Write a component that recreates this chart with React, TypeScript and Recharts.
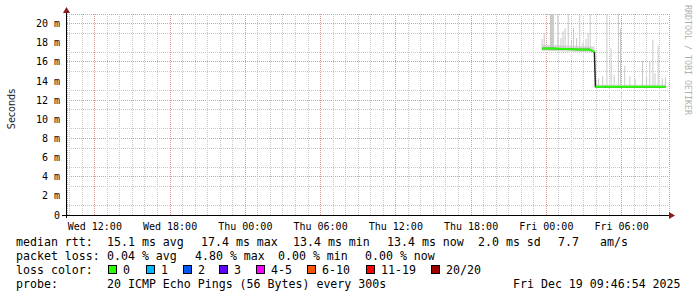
import React from "react";
import { ComposedChart, Area, Bar, Line, XAxis, YAxis, CartesianGrid, ReferenceLine } from "recharts";

// time is minutes since Wed 00:00, 5 minute steps; window ends Fri 09:46:54
const xDomain = [586.9, 3466.9];
const xTicks = [720, 1080, 1440, 1800, 2160, 2520, 2880, 3240];
const xTickLabels = ["Wed 12:00", "Wed 18:00", "Thu 00:00", "Thu 06:00", "Thu 12:00", "Thu 18:00", "Fri 00:00", "Fri 06:00"];
const yTicks = [0, 2, 4, 6, 8, 10, 12, 14, 16, 18, 20];
const yTickLabels = ["0", "2 m", "4 m", "6 m", "8 m", "10 m", "12 m", "14 m", "16 m", "18 m", "20 m"];

// median rtt (ms), before and after the drop
const medianTimesA = [2860, 2910, 2970, 3030, 3085, 3100, 3110];
const medianValuesA = [17.4, 17.4, 17.35, 17.3, 17.3, 17.15, 17.0];
const medianTimesB = [3115, 3240, 3450];
const medianValuesB = [13.4, 13.4, 13.4];
// one lost ping
const lossTimes = [3160, 3165];
const lossValues = [13.4, 13.4];

// smoke band around the median
const bandTimes = [2860, 3110, 3115, 3450];
const bandLow = [17.15, 17.0, 13.3, 13.3];
const bandHigh = [17.8, 17.6, 13.6, 13.6];

// smoke spikes (max rtt of the 20 pings)
const spikeTimes = [2860, 2870, 2900, 2905, 2910, 2915, 2935, 2950, 2960, 2970, 2985, 3000, 3010, 3025, 3040, 3055, 3070, 3080, 3090,
  3130, 3150, 3170, 3190, 3205, 3225, 3235, 3255, 3280, 3305, 3340, 3360, 3375, 3390, 3400, 3415, 3435, 3450];
const spikeLow = [17.2, 17.2, 17.2, 17.2, 17.2, 17.2, 17.2, 17.2, 17.2, 17.2, 17.2, 17.2, 17.2, 17.2, 17.2, 17.2, 17.2, 17.2, 17.1,
  13.3, 13.3, 13.3, 13.3, 13.3, 13.3, 13.3, 13.3, 13.3, 13.3, 13.3, 13.3, 13.3, 13.3, 13.3, 13.3, 13.3, 13.3];
const spikeHigh = [18.4, 19.0, 21, 21, 21, 21, 21, 18.5, 19.2, 19.5, 21, 18.2, 19.6, 18.5, 21, 18.0, 18.4, 19.0, 21,
  14.3, 14.5, 21, 17.4, 14.6, 21, 19.5, 15.6, 14.5, 14.2, 16.1, 14.4, 16.0, 18.3, 14.8, 17.7, 14.3, 14.4];

const lossColors = ["#26ff00", "#00b8ff", "#0059ff", "#5e00ff", "#ff00ff", "#ff5500", "#ff0000", "#a10000"];
const lossLabels = ["0", "1", "2", "3", "4-5", "6-10", "11-19", "20/20"];

const rttLine = ["median rtt:", "15.1 ms avg", "17.4 ms max", "13.4 ms min", "13.4 ms now", "2.0 ms sd", "7.7", "am/s"];
const lossLine = ["packet loss:", "0.04 % avg", "4.80 % max", "0.00 % min", "0.00 % now"];
const probeLine = ["probe:", "20 ICMP Echo Pings (56 Bytes) every 300s", "Fri Dec 19 09:46:54 2025"];

function buildRows() {
  const rows = new Map<number, any>();
  const put = (t: number, key: string, v: any) => {
    const r = rows.get(t) ?? { t };
    r[key] = v;
    rows.set(t, r);
  };
  medianTimesA.forEach((t, i) => { put(t, "medA", medianValuesA[i]); put(t, "med", medianValuesA[i]); });
  medianTimesB.forEach((t, i) => { put(t, "medB", medianValuesB[i]); put(t, "med", medianValuesB[i]); });
  lossTimes.forEach((t, i) => put(t, "loss", lossValues[i]));
  bandTimes.forEach((t, i) => put(t, "band", [bandLow[i], bandHigh[i]]));
  spikeTimes.forEach((t, i) => put(t, "spike", [spikeLow[i], spikeHigh[i]]));
  return Array.from(rows.values()).sort((a, b) => a.t - b.t);
}

const data = buildRows();

const minorX: number[] = [];
for (let m = 600; m <= 3420; m += 60) if (m % 360 !== 0) minorX.push(m);
const minorY = [1, 3, 5, 7, 9, 11, 13, 15, 17, 19];

const mono = "'DejaVu Sans Mono', monospace";
const minorStyle = { stroke: "#c8c8c8", strokeDasharray: "1 1", shapeRendering: "crispEdges" as const };

export default function App() {
  return (
    <div style={{ position: "relative", width: 697, height: 297, background: "#fff" }}>
      <style>{"body{margin:0}"}</style>
      <ComposedChart width={697} height={297} data={data} margin={{ top: 14, right: 28, bottom: 62, left: 27 }}>
        <CartesianGrid stroke="#e39a9a" strokeDasharray="1 1" shapeRendering="crispEdges" />
        {minorX.map((m) => (
          <ReferenceLine key={"vx" + m} x={m} {...minorStyle} />
        ))}
        {minorY.map((v) => (
          <ReferenceLine key={"hy" + v} y={v} {...minorStyle} />
        ))}
        <XAxis
          dataKey="t"
          type="number"
          domain={xDomain}
          allowDataOverflow
          ticks={xTicks}
          tickFormatter={(v) => xTickLabels[xTicks.indexOf(v)]}
          axisLine={false}
          tickLine={false}
          tickSize={6}
          height={20}
          tick={{ fontFamily: mono, fontSize: 10, fill: "#000" }}
        />
        <YAxis
          type="number"
          domain={[0, 21]}
          allowDataOverflow
          ticks={yTicks}
          tickFormatter={(v) => yTickLabels[yTicks.indexOf(v)]}
          axisLine={false}
          tickLine={false}
          tickSize={5}
          width={40}
          tick={{ fontFamily: mono, fontSize: 10, fill: "#000" }}
        />
        <Area dataKey="band" type="linear" stroke="none" fill="#d8d8d8" fillOpacity={1} connectNulls isAnimationActive={false} />
        <Bar dataKey="spike" barSize={1} fill="#c8c8c8" isAnimationActive={false} />
        <Line dataKey="med" type="linear" stroke="#222" strokeWidth={1.5} dot={false} connectNulls isAnimationActive={false} />
        <Line dataKey="medA" type="linear" stroke="#26ff00" strokeWidth={2} dot={false} connectNulls isAnimationActive={false} />
        <Line dataKey="medB" type="linear" stroke="#26ff00" strokeWidth={2} dot={false} connectNulls isAnimationActive={false} />
        <Line dataKey="loss" type="linear" stroke="#00b8ff" strokeWidth={2} dot={false} connectNulls isAnimationActive={false} />
      </ComposedChart>

      <svg width={697} height={297} style={{ position: "absolute", left: 0, top: 0, pointerEvents: "none" }}>
        <line x1={62} y1={215.5} x2={670} y2={215.5} stroke="#000" strokeWidth={1} />
        <line x1={66.5} y1={218} x2={66.5} y2={12} stroke="#000" strokeWidth={1} />
        <polygon points="669,212 675,215.5 669,219" fill="#8b1a1a" />
        <polygon points="63,13 66.5,7 70,13" fill="#8b1a1a" />

        <text x={15} y={109} transform="rotate(-90 15 109)" textAnchor="middle" fontFamily="'DejaVu Sans', sans-serif" fontSize={9.6} fill="#222">
          Seconds
        </text>
        <text x={685} y={5} transform="rotate(90 685 5)" fontFamily={mono} fontSize={8.3} fill="#b0b0b0">
          RRDTOOL / TOBI OETIKER
        </text>

        <g fontFamily={mono} fontSize={11.6} fill="#000" style={{ whiteSpace: "pre" }}>
          {rttLine.map((s, i) => (
            <text key={"r" + i} x={[16, 107, 201, 293, 387, 478, 558, 600][i]} y={245.5}>{s}</text>
          ))}
          {lossLine.map((s, i) => (
            <text key={"l" + i} x={[16, 107, 195, 278, 365][i]} y={259.5}>{s}</text>
          ))}
          <text x={16} y={273.5}>loss color:</text>
          {lossLabels.map((s, i) => {
            const bx = [108, 146, 183, 219, 256, 307, 366, 431][i];
            return (
              <g key={"c" + i}>
                <rect x={bx + 0.5} y={265.5} width={8} height={8} fill={lossColors[i]} stroke="#000" strokeWidth={1} />
                <text x={bx + 15} y={273.5}>{s}</text>
              </g>
            );
          })}
          {probeLine.map((s, i) => (
            <text key={"p" + i} x={[16, 107, 513][i]} y={287.5}>{s}</text>
          ))}
        </g>
      </svg>
    </div>
  );
}
